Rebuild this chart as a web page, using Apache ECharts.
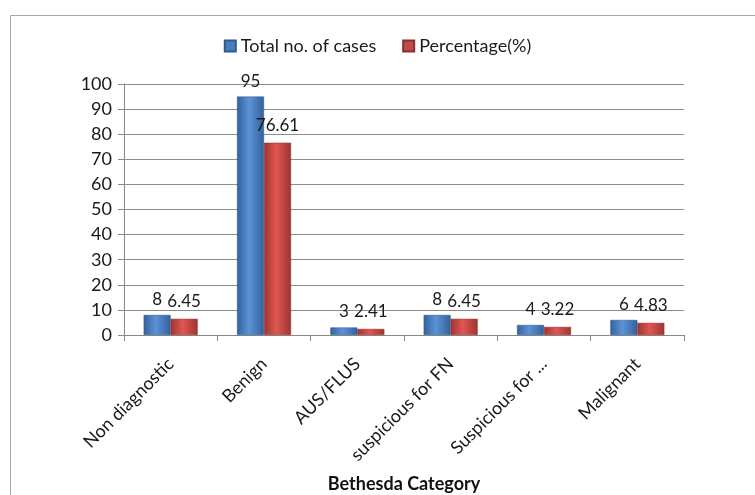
<!DOCTYPE html>
<html>
<head>
<meta charset="utf-8">
<script src="https://cdn.jsdelivr.net/npm/echarts@6/dist/echarts.min.js"></script>
<style>
html, body { margin: 0; padding: 0; background: #fff; }
#chart { width: 755px; height: 495px; }
</style>
</head>
<body>
<div id="chart"></div>
<script>
// Bethesda categories and counts
const categories = ['Non diagnostic', 'Benign', 'AUS/FLUS', 'suspicious for FN', 'Suspicious for ...', 'Malignant'];
const totalCases = [8, 95, 3, 8, 4, 6];
const percentage = [6.45, 76.61, 2.41, 6.45, 3.22, 4.83];
const seriesNames = ['Total no. of cases', 'Percentage(%)'];
const yTicks = { min: 0, max: 100, interval: 10 };

const FONT = 'Lato, "Open Sans", sans-serif';

function barFill(dark, light) {
  return new echarts.graphic.LinearGradient(0, 0, 1, 0, [
    { offset: 0, color: dark },
    { offset: 0.45, color: light },
    { offset: 1, color: dark }
  ]);
}

const chart = echarts.init(document.getElementById('chart'), null, { renderer: 'canvas' });

chart.setOption({
  animation: false,
  backgroundColor: '#ffffff',
  graphic: [{
    type: 'rect',
    shape: { x: 10.5, y: 15.5, width: 800, height: 600 },
    style: { fill: 'none', stroke: '#a6a6a6', lineWidth: 1 },
    silent: true,
    z: -1
  }],
  legend: {
    top: 32,
    left: 'center',
    itemWidth: 11,
    itemHeight: 11,
    itemGap: 26,
    icon: 'rect',
    textStyle: { fontFamily: FONT, fontSize: 18, color: '#1a1a1a' },
    data: [
      { name: seriesNames[0], itemStyle: { color: '#4a7ebb' } },
      { name: seriesNames[1], itemStyle: { color: '#be4b48' } }
    ]
  },
  grid: { left: 124, top: 84, width: 560, height: 251, containLabel: false, outerBoundsMode: 'none' },
  xAxis: {
    type: 'category',
    data: categories,
    name: 'Bethesda Category',
    nameLocation: 'middle',
    nameGap: 140,
    nameTextStyle: { fontFamily: FONT, fontSize: 18, fontWeight: 'bold', color: '#111' },
    axisLine: { show: true, lineStyle: { color: '#888', width: 1 } },
    axisTick: { show: true, length: 6, lineStyle: { color: '#888' } },
    axisLabel: {
      rotate: 45,
      interval: 0,
      margin: 26,
      fontFamily: FONT,
      fontSize: 18,
      color: '#1a1a1a'
    }
  },
  yAxis: {
    type: 'value',
    min: yTicks.min,
    max: yTicks.max,
    interval: yTicks.interval,
    axisLine: { show: true, lineStyle: { color: '#888', width: 1 } },
    axisTick: { show: true, length: 6, lineStyle: { color: '#888' } },
    axisLabel: { fontFamily: FONT, fontSize: 18, color: '#1a1a1a', margin: 12 },
    splitLine: { show: true, lineStyle: { color: '#8c8c8c', width: 1 } }
  },
  series: [
    {
      name: seriesNames[0],
      type: 'bar',
      data: totalCases,
      barWidth: 27,
      barGap: '0%',
      itemStyle: { color: barFill('#33619b', '#5b93d8'), borderColor: '#2e5a8e', borderWidth: 0.5 },
      label: {
        show: true, position: 'top', distance: 7,
        fontFamily: FONT, fontSize: 17, color: '#1a1a1a'
      }
    },
    {
      name: seriesNames[1],
      type: 'bar',
      data: percentage,
      barWidth: 27,
      itemStyle: { color: barFill('#9c3532', '#e05652'), borderColor: '#8c2f2c', borderWidth: 0.5 },
      label: {
        show: true, position: 'top', distance: 9,
        fontFamily: FONT, fontSize: 17, color: '#1a1a1a'
      }
    }
  ]
});
</script>
</body>
</html>
